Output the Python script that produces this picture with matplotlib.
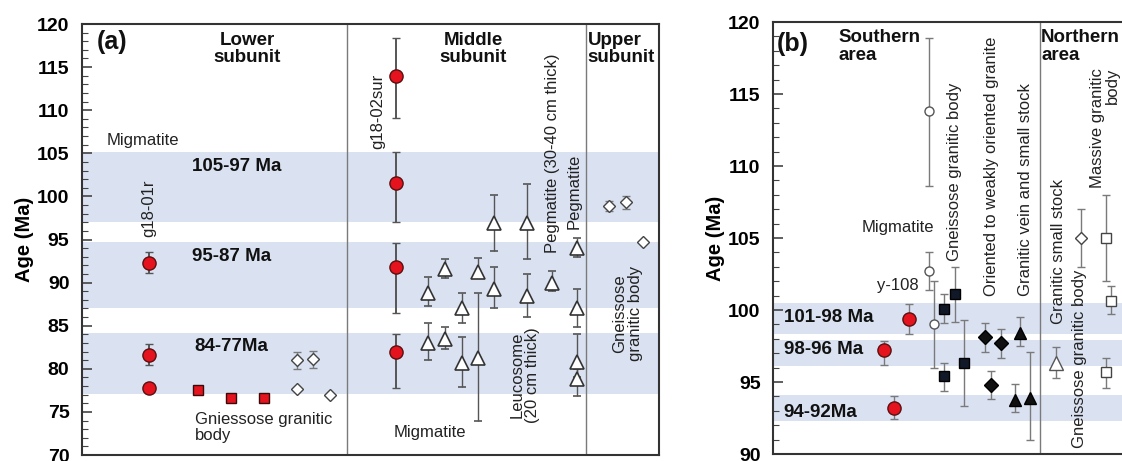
import matplotlib
matplotlib.use("Agg")
import matplotlib.pyplot as plt
from matplotlib.ticker import MultipleLocator
import numpy as np

plt.rcParams['font.family'] = ['Liberation Sans', 'DejaVu Sans']

# ---------------- Panel (a) data ----------------
# x positions are sample column positions (0-100 across the panel)
a_red_circ_x = [11.6, 11.6, 11.6, 54.4, 54.4, 54.4, 54.4]
a_red_circ_y = [92.3, 81.6, 77.8, 114.0, 101.5, 91.8, 82.0]
a_red_circ_lo = [1.2, 1.2, 0.3, 4.9, 4.5, 5.3, 4.2]
a_red_circ_hi = [1.3, 1.3, 0.3, 4.4, 3.6, 2.8, 2.0]

a_red_sq_x = [20.1, 25.8, 31.5]
a_red_sq_y = [77.5, 76.6, 76.6]
a_red_sq_err = [0.4, 0.5, 0.2]

a_diam_x = [37.3, 40.0, 37.3, 43.0, 91.3, 94.3, 97.2]
a_diam_y = [81.0, 81.1, 77.6, 77.0, 98.9, 99.3, 94.7]
a_diam_err = [1.0, 1.0, 0.0, 0.0, 0.6, 0.8, 0.0]

a_tri_x = [60.0, 60.0, 62.9, 62.9, 65.9, 65.9, 68.6, 68.6, 71.4, 71.4,
           77.1, 77.1, 81.5, 85.8, 85.8, 85.8, 85.8]
a_tri_y = [88.8, 83.0, 91.6, 83.5, 87.0, 80.7, 91.2, 81.3, 96.9, 89.3,
           96.9, 88.4, 90.0, 94.0, 87.0, 80.8, 78.8]
a_tri_lo = [1.5, 2.0, 1.1, 1.2, 1.7, 2.8, 0.6, 7.3, 3.2, 2.2,
            4.2, 2.4, 1.0, 1.0, 2.1, 1.8, 1.9]
a_tri_hi = [1.9, 2.3, 1.1, 1.4, 1.8, 3.0, 1.7, 7.5, 3.3, 2.5,
            4.5, 2.6, 1.3, 1.2, 2.3, 3.2, 1.2]

a_bands = [(97.0, 105.1), (87.0, 94.7), (77.1, 84.2)]
a_dividers = [45.9, 87.3]

# ---------------- Panel (b) data ----------------
b_red_x = [31.5, 34.4, 38.7]
b_red_y = [97.2, 93.2, 99.4]
b_red_lo = [1.0, 0.8, 1.1]
b_red_hi = [0.65, 0.8, 1.05]

b_ocirc_x = [44.4, 44.4, 45.8]
b_ocirc_y = [113.8, 102.7, 99.0]
b_ocirc_lo = [5.2, 1.3, 3.0]
b_ocirc_hi = [5.1, 1.3, 3.0]

b_bsq_x = [48.7, 48.7, 51.6, 54.4]
b_bsq_y = [100.1, 95.4, 101.1, 96.3]
b_bsq_lo = [1.0, 1.0, 1.95, 3.0]
b_bsq_hi = [1.0, 0.9, 1.9, 3.0]

b_bdia_x = [60.2, 61.9, 64.8]
b_bdia_y = [98.1, 94.8, 97.7]
b_bdia_lo = [1.0, 1.0, 1.0]
b_bdia_hi = [1.0, 0.95, 0.95]

b_btri_x = [70.2, 68.8, 73.1]
b_btri_y = [98.4, 93.75, 93.9]
b_btri_lo = [0.9, 0.85, 2.9]
b_btri_hi = [1.1, 1.1, 3.2]

b_otri_x = [80.5]
b_otri_y = [96.35]
b_otri_err = [1.1]

b_odia_x = [87.4]
b_odia_y = [105.0]
b_odia_err = [2.0]

b_osq_x = [94.6, 96.0, 94.6]
b_osq_y = [105.0, 100.65, 95.7]
b_osq_lo = [3.0, 0.95, 1.1]
b_osq_hi = [3.0, 1.05, 1.0]

b_bands = [(98.3, 100.5), (96.1, 97.95), (92.3, 94.1)]
b_dividers = [75.9]

BAND = '#dae2f2'
RED = '#e5131d'
GREY = '#7a7a7a'

fig = plt.figure(figsize=(11.22, 4.61), dpi=100)
axa = fig.add_axes([82/1122, 1-455/461, (659-82)/1122, (455-24)/461])
axb = fig.add_axes([773/1122, 1-454/461, (1125-773)/1122, (454-22)/461])


def style(ax, ylo, yhi):
    ax.set_xlim(0, 100)
    ax.set_ylim(ylo, yhi)
    ax.set_xticks([])
    ax.yaxis.set_major_locator(MultipleLocator(5))
    ax.yaxis.set_minor_locator(MultipleLocator(1))
    ax.tick_params(axis='y', which='major', direction='in', length=7, width=1.2,
                   color='#444444', labelsize=14, pad=9)
    ax.tick_params(axis='y', which='minor', direction='in', length=4, width=0.8,
                   color='#444444')
    for lab in ax.get_yticklabels():
        lab.set_fontweight('bold')
    for s in ax.spines.values():
        s.set_color('#333333')
        s.set_linewidth(1.5)
    ax.set_ylabel('Age (Ma)', fontsize=14.5, fontweight='bold', labelpad=2)


def eb(ax, x, y, lo, hi, fmt, ms, mfc, mec, ecolor, elw=1.0, cap=3, z=3, mew=1.0):
    ax.errorbar(x, y, yerr=[lo, hi], fmt=fmt, ms=ms, mfc=mfc, mec=mec,
                ecolor=ecolor, elinewidth=elw, capsize=cap, capthick=elw, zorder=z, mew=mew)


FS = 12
HS = 13.5
TXT = '#222222'
bold = dict(fontweight='bold', color='#111111')

# ---------- Panel a ----------
style(axa, 70, 120)
for lo, hi in a_bands:
    axa.axhspan(lo, hi, color=BAND, lw=0, zorder=0)
for d in a_dividers:
    axa.axvline(d, color=GREY, lw=1.0, zorder=1)

eb(axa, a_red_circ_x, a_red_circ_y, a_red_circ_lo, a_red_circ_hi, 'o', 9.5, RED, '#5a1010',
   '#555555', elw=1.4)
eb(axa, a_red_sq_x, a_red_sq_y, a_red_sq_err, a_red_sq_err, 's', 7.5, RED, '#3a0a0a', '#555555')
eb(axa, a_diam_x, a_diam_y, a_diam_err, a_diam_err, 'D', 6.5, 'white', '#444444', GREY)
eb(axa, a_tri_x, a_tri_y, a_tri_lo, a_tri_hi, '^', 10, 'white', '#333333', '#555555', mew=1.2)

axa.text(2.6, 117.9, '(a)', fontsize=18, ha='left', va='center', **bold)
axa.text(28.6, 117.1, 'Lower\nsubunit', fontsize=HS, ha='center', va='center',
         linespacing=1.05, **bold)
axa.text(67.8, 117.1, 'Middle\nsubunit', fontsize=HS, ha='center', va='center',
         linespacing=1.05, **bold)
axa.text(87.6, 117.1, 'Upper\nsubunit', fontsize=HS, ha='left', va='center',
         linespacing=1.05, **bold)
axa.text(4.3, 106.5, 'Migmatite', fontsize=FS, ha='left', va='center', color=TXT)
axa.text(19.0, 103.5, '105-97 Ma', fontsize=HS, ha='left', va='center', **bold)
axa.text(19.0, 93.05, '95-87 Ma', fontsize=HS, ha='left', va='center', **bold)
axa.text(19.5, 82.6, '84-77Ma', fontsize=HS, ha='left', va='center', **bold)
axa.text(11.6, 95.3, 'g18-01r', fontsize=FS, rotation=90, ha='center', va='bottom',
         color=TXT)
axa.text(19.5, 73.2, 'Gniessose granitic\nbody', fontsize=FS, ha='left', va='center',
         linespacing=1.1, color=TXT)
axa.text(51.3, 114.2, 'g18-02sur', fontsize=FS, rotation=90, ha='center', va='top',
         color=TXT)
axa.text(81.5, 93.4, 'Pegmatite (30-40 cm thick)', fontsize=FS, rotation=90,
         ha='center', va='bottom', color=TXT)
axa.text(85.3, 96.2, 'Pegmatite', fontsize=FS, rotation=90, ha='center', va='bottom',
         color=TXT)
axa.text(76.8, 73.7, 'Leucosome\n(20 cm thick)', fontsize=FS, rotation=90,
         ha='center', va='bottom', linespacing=1.05, color=TXT)
axa.text(60.3, 72.6, 'Migmatite', fontsize=FS, ha='center', va='center', color=TXT)
axa.text(94.6, 86.4, 'Gneissose\ngranitic body', fontsize=FS, rotation=90,
         ha='center', va='center', linespacing=1.05, color=TXT)

# ---------- Panel b ----------
style(axb, 90, 120)
for lo, hi in b_bands:
    axb.axhspan(lo, hi, color=BAND, lw=0, zorder=0)
for d in b_dividers:
    axb.axvline(d, color=GREY, lw=1.0, zorder=1)

eb(axb, b_red_x, b_red_y, b_red_lo, b_red_hi, 'o', 9.5, RED, '#5a1010', GREY)
eb(axb, b_ocirc_x, b_ocirc_y, b_ocirc_lo, b_ocirc_hi, 'o', 6.5, 'white', '#555555', GREY)
eb(axb, b_bsq_x, b_bsq_y, b_bsq_lo, b_bsq_hi, 's', 7, '#111827', '#000000', GREY)
eb(axb, b_bdia_x, b_bdia_y, b_bdia_lo, b_bdia_hi, 'D', 7, '#111111', '#000000', GREY)
eb(axb, b_btri_x, b_btri_y, b_btri_lo, b_btri_hi, '^', 8, '#111111', '#000000', GREY)
eb(axb, b_otri_x, b_otri_y, b_otri_err, b_otri_err, '^', 10, 'white', '#555555', GREY)
eb(axb, b_odia_x, b_odia_y, b_odia_err, b_odia_err, 'D', 6.5, 'white', '#444444', GREY)
eb(axb, b_osq_x, b_osq_y, b_osq_lo, b_osq_hi, 's', 7, 'white', '#444444', GREY)

axb.text(1.2, 118.5, '(b)', fontsize=18, ha='left', va='center', **bold)
axb.text(18.6, 118.3, 'Southern\narea', fontsize=HS, ha='left', va='center',
         linespacing=1.05, **bold)
axb.text(76.2, 118.3, 'Northern\narea', fontsize=HS, ha='left', va='center',
         linespacing=1.05, **bold)
axb.text(35.5, 105.7, 'Migmatite', fontsize=FS, ha='center', va='center', color=TXT)
axb.text(35.5, 101.7, 'y-108', fontsize=FS, ha='center', va='center', color=TXT)
axb.text(3.0, 99.5, '101-98 Ma', fontsize=HS, ha='left', va='center', **bold)
axb.text(3.0, 97.25, '98-96 Ma', fontsize=HS, ha='left', va='center', **bold)
axb.text(3.0, 92.9, '94-92Ma', fontsize=HS, ha='left', va='center', **bold)
axb.text(51.6, 103.4, 'Gneissose granitic body', fontsize=FS, rotation=90,
         ha='center', va='bottom', color=TXT)
axb.text(62.2, 101.0, 'Oriented to weakly oriented granite', fontsize=FS, rotation=90,
         ha='center', va='bottom', color=TXT)
axb.text(71.7, 101.0, 'Granitic vein and small stock', fontsize=FS, rotation=90,
         ha='center', va='bottom', color=TXT)
axb.text(81.0, 99.0, 'Granitic small stock', fontsize=FS, rotation=90,
         ha='center', va='bottom', color=TXT)
axb.text(87.1, 90.4, 'Gneissose granitic body', fontsize=FS, rotation=90,
         ha='center', va='bottom', color=TXT)
axb.text(94.4, 116.8, 'Massive granitic\nbody', fontsize=FS, rotation=90,
         ha='center', va='top', multialignment='right', linespacing=1.0, color=TXT)

fig.savefig('out.png', dpi=100)
